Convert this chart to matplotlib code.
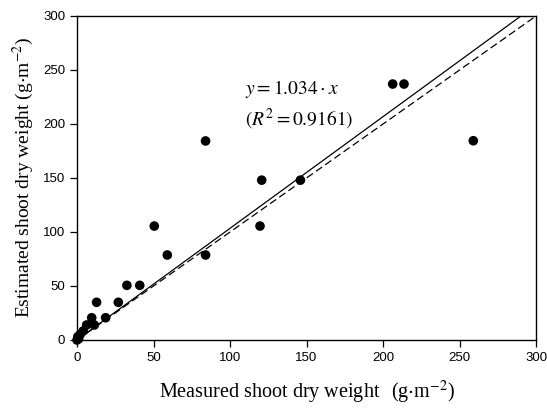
import matplotlib
matplotlib.use("Agg")
import matplotlib.pyplot as plt
import numpy as np

plt.rcParams['mathtext.fontset'] = 'stix'

# measured vs estimated shoot dry weight (g m-2)
measured = [0, 0.5, 1, 2, 4, 6.3, 9.6, 11.3, 12.8, 18.7, 27, 32.6, 41,
            50.5, 59, 84, 84, 119.6, 120.7, 146, 206.3, 213.7, 259]
estimated = [0, 3, 1, 5, 8.3, 13.9, 20.6, 13.9, 34.9, 20.6, 34.9, 50.6, 50.6,
             105.5, 78.7, 184.3, 78.7, 105.5, 148, 148, 237, 237, 184.5]

slope = 1.034
r2 = 0.9161
line_x = [0, 300]

fig = plt.figure(figsize=(5.47, 4.08), dpi=100)
ax = fig.add_axes([0.1408, 0.1667, 0.8392, 0.7941])

ax.scatter(measured, estimated, s=48, color='black', zorder=3,
           edgecolors='none', clip_on=False)
ax.plot(line_x, [slope * v for v in line_x], color='black', lw=0.9)
ax.plot(line_x, line_x, color='black', lw=0.9, dashes=(6, 3))

ax.set_xlim(0, 300)
ax.set_ylim(0, 300)
ax.set_xticks(np.arange(0, 301, 50))
ax.set_yticks(np.arange(0, 301, 50))
ax.tick_params(direction='out', length=5, width=0.9, labelsize=9.5)
for lab in ax.get_xticklabels() + ax.get_yticklabels():
    lab.set_fontfamily('Liberation Sans')
for s in ax.spines.values():
    s.set_linewidth(1.0)

ax.set_xlabel(r"Measured shoot dry weight  $\,$(g$\cdot$m$^{-2}$)",
              fontfamily='Liberation Serif', fontsize=14.5, labelpad=11)
ax.set_ylabel(r"Estimated shoot dry weight (g$\cdot$m$^{-2}$)",
              fontfamily='Liberation Serif', fontsize=14, labelpad=5)

ax.text(110, 232, r"$y = 1.034 \cdot x$", fontsize=14, ha='left', va='center')
ax.text(110, 204, r"$(R^2 = 0.9161)$", fontsize=14, ha='left', va='center')

fig.savefig("out.png", dpi=100)
